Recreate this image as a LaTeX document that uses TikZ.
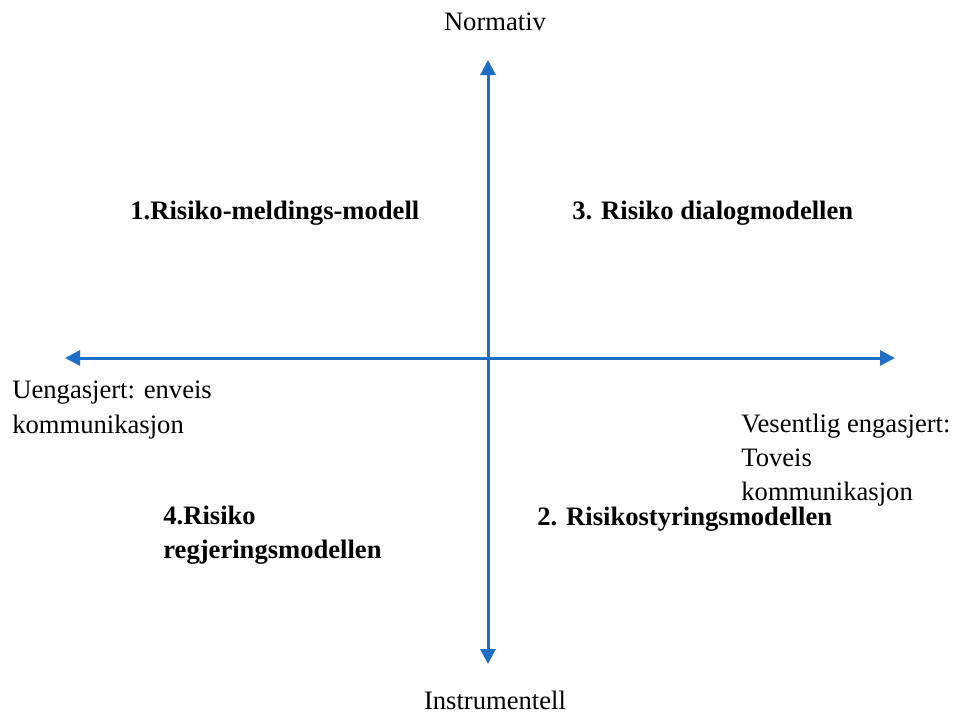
\documentclass[tikz,border=0pt]{standalone}
\usepackage{fontspec}
\setmainfont{Liberation Serif}
\usepackage{tikz}
\usetikzlibrary{arrows.meta}
\definecolor{axisblue}{RGB}{28,111,198}
\tikzset{
    axis-line/.style = {draw=axisblue, line width=1.5pt, {Triangle[length=7.5pt,width=7.5pt]}-{Triangle[length=7.5pt,width=7.5pt]}},
    axis-label/.style = {inner sep=0pt, font=\fontsize{13.3}{17.2}\selectfont, align=left},
    model-label/.style = {inner sep=0pt, font=\fontsize{13.3}{16.8}\selectfont\bfseries, align=left},
}

\begin{document}
\begin{tikzpicture}[x=0.5pt, y=-0.5pt]
\useasboundingbox (0,0) rectangle (955,719);
% axes
\coordinate (top) at (488,60);
\coordinate (bottom) at (488,664);
\coordinate (left) at (65,358);
\coordinate (right) at (895,358);
\draw [axis-line] (bottom) -- (top);
\draw [axis-line] (left) -- (right);
% axis ends
\node [axis-label] (normativ) at (495,22) {Normativ};
\node [axis-label] (instrumentell) at (495,700) {Instrumentell};
\node [axis-label, anchor=west] (uengasjert) at (12,410) {Uengasjert: enveis\\kommunikasjon};
\node [axis-label, anchor=west] (engasjert) at (741,460) {Vesentlig engasjert:\\Toveis\\kommunikasjon};
% quadrants
\node [model-label, anchor=west] (melding) at (130,213) {1.Risiko-meldings-modell};
\node [model-label, anchor=west] (dialog) at (572,213) {3. Risiko dialogmodellen};
\node [model-label, anchor=west] (styring) at (537,519) {2. Risikostyringsmodellen};
\node [model-label, anchor=west] (regjering) at (163,535) {4.Risiko\\regjeringsmodellen};
\end{tikzpicture}
\end{document}
